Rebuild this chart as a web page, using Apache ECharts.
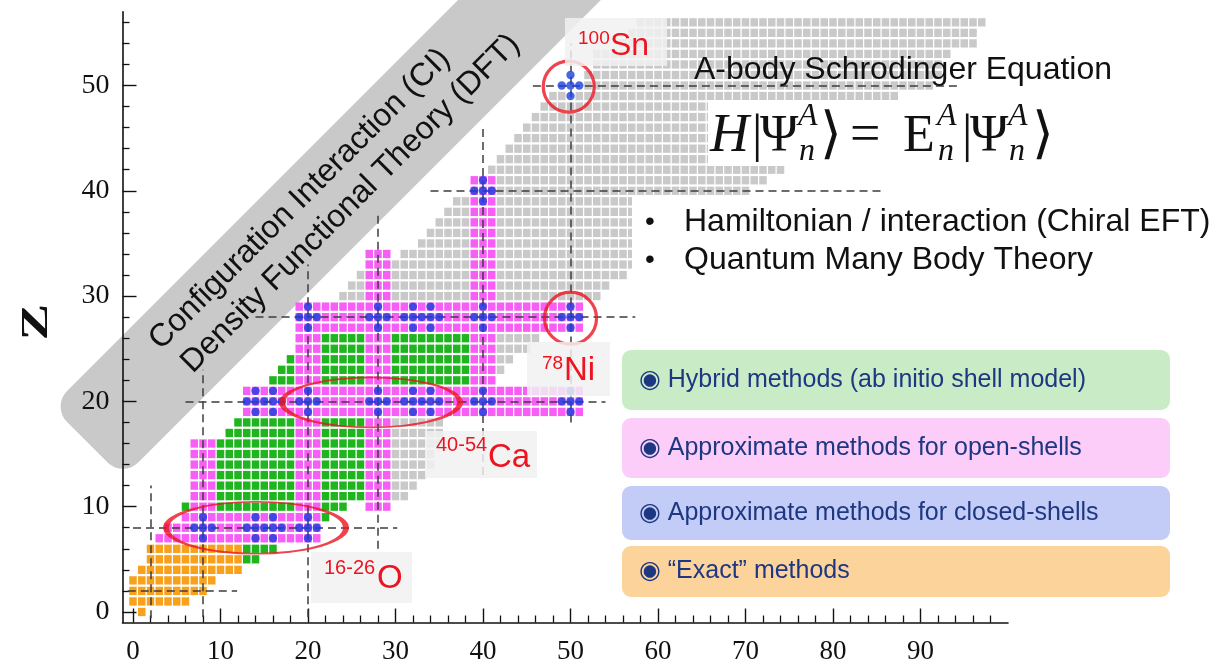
<!DOCTYPE html>
<html><head><meta charset="utf-8">
<script src="https://cdn.jsdelivr.net/npm/echarts@6/dist/echarts.min.js"></script>
<style>html,body{margin:0;padding:0;background:#fff}#c{width:1211px;height:670px}</style>
</head><body><div id="c"></div>
<script>
// ---- data: [Z, Nfrom, Nto] ----
const orangeRows = [[0,1,1],[1,0,6],[2,0,8],[3,0,9],[4,1,12],[5,2,12],[6,2,12]];
const greenRows = [
  [5,13,14],[6,13,16],[9,22,22],
  [10,6,6],[10,10,18],[10,22,24],
  [11,10,18],[11,22,26],[12,10,18],[12,22,26],[13,10,18],[13,22,26],
  [14,10,18],[14,22,26],[15,10,18],[15,22,26],[16,10,18],[16,22,26],
  [17,11,18],[17,22,26],[18,12,18],[18,22,26],
  [22,16,18],[22,22,26],[22,30,38],[23,17,18],[23,22,26],[23,30,38],
  [24,18,18],[24,22,26],[24,30,38],[25,22,26],[25,30,38],[26,22,26],[26,30,38]
];
const magentaRows = [
  [7,3,21],[8,4,21],[9,6,21],
  [10,7,9],[10,19,21],[10,27,29],[11,7,9],[11,19,21],[11,27,29],
  [12,7,9],[12,19,21],[12,27,29],[13,7,9],[13,19,21],[13,27,29],
  [14,7,9],[14,19,21],[14,27,29],[15,7,9],[15,19,21],[15,27,29],
  [16,7,9],[16,19,21],[16,27,29],[17,19,21],[17,27,29],[18,19,21],[18,27,29],
  [19,13,51],[20,13,51],[21,13,51],
  [22,19,21],[22,27,29],[22,39,41],[23,19,21],[23,27,29],[23,39,41],
  [24,19,21],[24,27,29],[24,39,41],[25,19,21],[25,27,29],[25,39,41],
  [26,19,21],[26,27,29],[26,39,41],
  [27,19,51],[28,19,51],[29,19,51],
  [30,27,29],[30,39,41],[31,27,29],[31,39,41],[32,27,29],[32,39,41],
  [33,27,29],[33,39,41],[34,27,29],[34,39,41],
  [35,39,41],[36,39,41],[37,39,41],[38,39,41],[39,39,41],[40,39,41],[41,39,41]
];
const grayRows = [
  [11,30,31],[12,30,32],[13,30,33],[14,30,34],[15,30,34],[16,30,35],[17,30,35],[18,30,35],
  [23,42,42],[24,42,43],[25,42,45],[26,42,46],
  [30,24,26],[30,30,38],[30,42,53],[31,25,26],[31,30,38],[31,42,54],
  [32,26,26],[32,30,38],[32,42,56],[33,30,38],[33,42,57],[34,31,38],[34,42,58],
  [35,33,38],[35,42,60],[36,34,38],[36,42,61],[37,35,38],[37,42,62],
  [38,36,38],[38,42,64],[39,37,38],[39,42,65],
  [40,42,70],[41,42,72],[42,41,74],[43,42,76],[44,43,77],[45,44,79],[46,45,80],
  [47,46,82],[48,47,84],[49,48,49],[49,51,87],
  [50,52,91],[51,52,92],[52,53,92],[53,53,93],[54,56,96],[55,57,96],[56,58,97]
];
// blue dots: [Z, [N...]]
const blueRows = [
  [7,[8,14,16,20]],[8,[7,8,9,13,14,15,16,17,19,20,21]],[9,[8,14,16,20]],
  [19,[14,16,20,28,32,34,40,50]],
  [20,[13,14,15,16,17,19,20,21,27,28,29,31,32,33,34,35,39,40,41,49,50,51]],
  [21,[14,16,20,28,32,34,40,50]],
  [27,[20,28,32,34,40,50]],
  [28,[19,20,21,27,28,29,31,32,33,34,35,39,40,41,49,50,51]],
  [29,[20,28,32,34,40,50]],
  [39,[40]],[40,[39,40,41]],[41,[40]],[49,[50]],[50,[49,50,51]],[51,[50]]
];
// magic-number guide lines
const magicRowLines = [[2,-0.6,11.9],[8,0,30.2],[20,6,54],[28,14,57.4],[40,34,86],[50,45.7,94.2]]; // [Z, N0, N1]
const magicColLines = [[2,-0.6,12],[8,-0.5,23],[20,-0.5,33],[28,6,38],[40,13,46],[50,18,54]];     // [N, Z0, Z1]
// highlighted nuclei (ellipse / circle centres) [N, Z]
const highlightCentres = [[14.06,8.0],[27.2,19.9],[49.8,49.9],[50,27.9]];
// axis ticks / labels
const xMajor = [0,10,20,30,40,50,60,70,80,90];
const xMinor = [2,4,6,8,12,14,16,18,22,24,26,28,32,34,36,38,42,44,46,48,52,54,56,58,62,64,66,68,72,74,76,78,82,84,86,88,92,94,96,98];
const yMajor = [0,10,20,30,40,50];
const yMinor = [2,4,6,8,12,14,16,18,22,24,26,28,32,34,36,38,42,44,46,48,52,54,56];

function expandRows(rows){const out=[];rows.forEach(([z,a,b])=>{for(let n=a;n<=b;n++)out.push([n,z]);});return out;}
function expandDots(rows){const out=[];rows.forEach(([z,ns])=>ns.forEach(n=>out.push([n,z])));return out;}

const chart = echarts.init(document.getElementById('c'), null, {renderer:'canvas'});
const serif = '"Liberation Serif","DejaVu Serif",serif';
const sans = '"Liberation Sans",Arial,"DejaVu Sans",sans-serif';
const cellSize = [7.5, 8.3];
function cellSeries(name, rows, color){
  return {name, type:'scatter', symbol:'rect', symbolSize:cellSize, data:expandRows(rows),
    itemStyle:{color, opacity:1}, silent:true, z:2, animation:false};
}
const lineData = [];
magicRowLines.forEach(([z,a,b])=>lineData.push({coords:[[a,z],[b,z]]}));
magicColLines.forEach(([n,a,b])=>lineData.push({coords:[[n,a],[n,b]]}));
const ringSizes = [[180,52],[178,50],[51,51],[52,52]];

const red = '#ec1420';
function supLabel(box, sup, main, supPos, mainPos, supSize, mainSize){
  return [
    {type:'rect', z:50, shape:{x:box[0],y:box[1],width:box[2],height:box[3]}, style:{fill:'rgba(241,241,241,0.85)'}},
    {type:'text', z:51, x:supPos[0], y:supPos[1], style:{text:sup, fill:red, font:`${supSize}px ${sans}`, textAlign:'left', textVerticalAlign:'middle'}},
    {type:'text', z:51, x:mainPos[0], y:mainPos[1], style:{text:main, fill:red, font:`${mainSize}px ${sans}`, textAlign:'left', textVerticalAlign:'middle'}}
  ];
}
const navy = '#1d3782';
function legendBox(y, h, fill, text){
  return [
    {type:'rect', z:60, shape:{x:622,y,width:548,height:h,r:9}, style:{fill}},
    {type:'text', z:61, x:639, y:y+h/2, style:{text, fill:navy, font:`25px ${sans}`, textAlign:'left', textVerticalAlign:'middle'}}
  ];
}
// equation piece: y is the vertical centre of the em box
function eq(text, x, y, size, italic){
  return {type:'text', z:71, x, y, style:{text, fill:'#111', font:`${italic?'italic ':''}${size}px ${serif}`, textAlign:'left', textVerticalAlign:'middle'}};
}

const graphics = [
  // diagonal band with method names
  {type:'group', x:51.5, y:406.5, rotation:Math.PI/4, children:[
    {type:'rect', z:-5, shape:{x:0,y:0,width:900,height:101,r:22}, style:{fill:'#c9c9c9'}},
    {type:'text', z:-4, x:322, y:29, style:{text:'Configuration Interaction (CI)', fill:'#111', font:`32px ${sans}`, textAlign:'center', textVerticalAlign:'middle'}},
    {type:'text', z:-4, x:355, y:68, style:{text:'Density Functional Theory (DFT)', fill:'#111', font:`32px ${sans}`, textAlign:'center', textVerticalAlign:'middle'}}
  ]},
  {type:'text', z:10, x:37, y:322, rotation:Math.PI/2, scaleX:1.45, style:{text:'Z', fill:'#111', font:`bold 38px ${serif}`, textAlign:'center', textVerticalAlign:'middle'}},
  ...supLabel([565,18,102,48],'100','Sn',[578,39],[610,46],19,32),
  ...supLabel([527,342,83,54],'78','Ni',[542,364],[564,371],19,33),
  ...supLabel([425,431,112,47],'40-54','Ca',[436,445],[488,458],20,33),
  ...supLabel([311,552,101,51],'16-26','O',[324,568],[377,579],20,33),
  // text panels
  {type:'text', z:70, x:694, y:70, style:{text:'A-body Schrodinger Equation', fill:'#111', font:`32px ${sans}`, textAlign:'left', textVerticalAlign:'middle'}},
  {type:'rect', z:69, shape:{x:708,y:100,width:380,height:66}, style:{fill:'#ffffff'}},
  eq('H',710,137,54,true), eq('|',752,137,52,false), eq('Ψ',760,137,52,false),
  eq('A',798,117,32,true), eq('n',799,152,32,true), eq('⟩',820,137,56,false),
  eq('=',850,137,54,false), eq('E',903,137,52,false),
  eq('A',937,117,32,true), eq('n',938,152,32,true),
  eq('|',962,137,52,false), eq('Ψ',970,137,52,false),
  eq('A',1008,117,32,true), eq('n',1009,152,32,true), eq('⟩',1032,137,56,false),
  {type:'rect', z:69, shape:{x:632,y:197,width:579,height:92}, style:{fill:'#ffffff'}},
  {type:'text', z:70, x:645, y:222, style:{text:'•', fill:'#111', font:`28px ${sans}`, textAlign:'left', textVerticalAlign:'middle'}},
  {type:'text', z:70, x:684, y:222, style:{text:'Hamiltonian / interaction (Chiral EFT)', fill:'#111', font:`32px ${sans}`, textAlign:'left', textVerticalAlign:'middle'}},
  {type:'text', z:70, x:645, y:260, style:{text:'•', fill:'#111', font:`28px ${sans}`, textAlign:'left', textVerticalAlign:'middle'}},
  {type:'text', z:70, x:684, y:260, style:{text:'Quantum Many Body Theory', fill:'#111', font:`32px ${sans}`, textAlign:'left', textVerticalAlign:'middle'}},
  ...legendBox(350,60,'#c9ecc6','◉ Hybrid methods (ab initio shell model)'),
  ...legendBox(418,60,'#fbcdf8','◉ Approximate methods for open-shells'),
  ...legendBox(486,54,'#c3ccf6','◉ Approximate methods for closed-shells'),
  ...legendBox(546,51,'#fdd39c','◉ “Exact” methods')
];

const axisLineStyle = {color:'#111', width:1.6};
const option = {
  backgroundColor:'#ffffff',
  animation:false,
  grid:{left:122.5, right:203, top:11.8, bottom:47.5, containLabel:false, outerBoundsMode:'none'},
  xAxis:[
    {type:'value', min:-1.2, max:100, position:'bottom',
      axisLine:{show:true, onZero:false, lineStyle:axisLineStyle},
      axisTick:{show:true, inside:true, length:14, customValues:xMajor, lineStyle:{color:'#111',width:1.4}},
      axisLabel:{show:true, customValues:xMajor, margin:16, color:'#111', fontFamily:serif, fontSize:27},
      splitLine:{show:false}},
    {type:'value', min:-1.2, max:100, position:'bottom',
      axisLine:{show:false, onZero:false},
      axisTick:{show:true, inside:true, length:7, customValues:xMinor, lineStyle:{color:'#111',width:1.3}},
      axisLabel:{show:false}, splitLine:{show:false}}
  ],
  yAxis:[
    {type:'value', min:-1, max:57, position:'left',
      axisLine:{show:true, onZero:false, lineStyle:axisLineStyle},
      axisTick:{show:true, inside:true, length:14, customValues:yMajor, lineStyle:{color:'#111',width:1.4}},
      axisLabel:{show:true, customValues:yMajor, margin:13, color:'#111', fontFamily:serif, fontSize:28},
      splitLine:{show:false}},
    {type:'value', min:-1, max:57, position:'left',
      axisLine:{show:false, onZero:false},
      axisTick:{show:true, inside:true, length:7, customValues:yMinor, lineStyle:{color:'#111',width:1.3}},
      axisLabel:{show:false}, splitLine:{show:false}}
  ],
  series:[
    cellSeries('gray', grayRows, '#c9c9c9'),
    cellSeries('orange', orangeRows, '#f7a11d'),
    cellSeries('green', greenRows, '#1fb51f'),
    cellSeries('magenta', magentaRows, '#f65ef5'),
    {type:'lines', coordinateSystem:'cartesian2d', polyline:false, data:lineData, silent:true, z:3,
      lineStyle:{color:'#3c3c3c', width:1.5, type:[8,5], opacity:1}, animation:false},
    {type:'scatter', symbol:'circle', symbolSize:8.4, data:expandDots(blueRows),
      itemStyle:{color:'#1a3ee0'}, silent:true, z:4, animation:false},
    {type:'scatter', symbol:'circle', data:highlightCentres,
      symbolSize:(v,p)=>ringSizes[p.dataIndex],
      itemStyle:{color:'rgba(0,0,0,0)', borderColor:red, borderWidth:3.2}, silent:true, z:5, animation:false}
  ],
  graphic:graphics
};
chart.setOption(option);
</script></body></html>
